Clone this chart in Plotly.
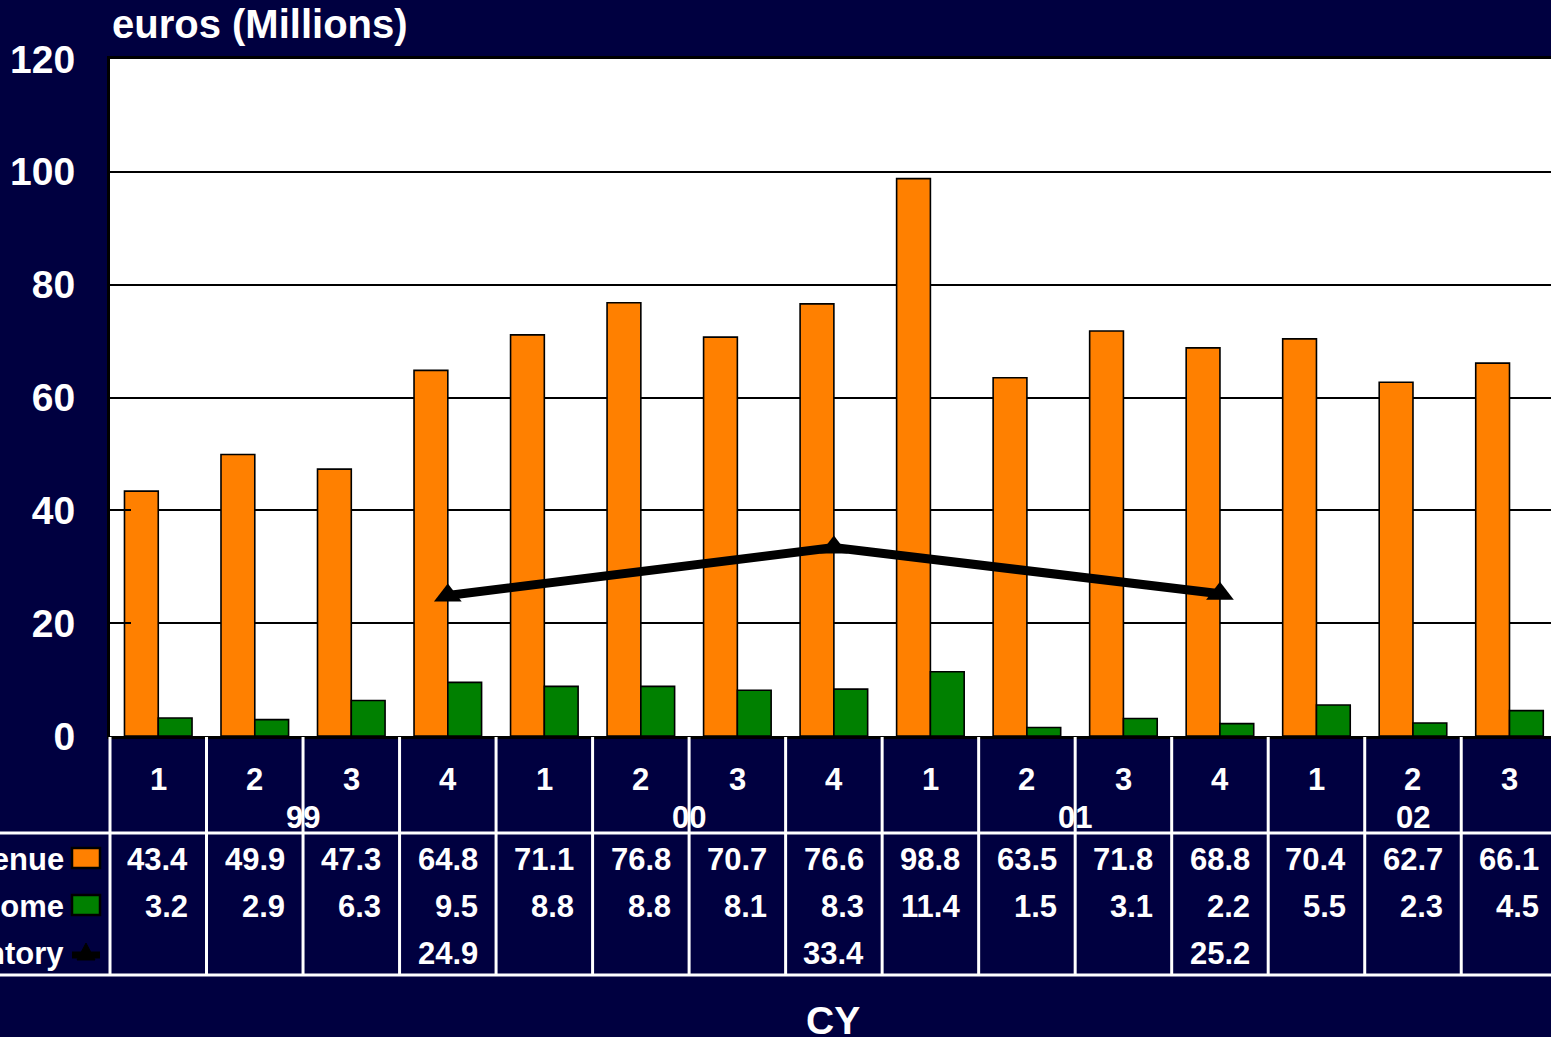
import plotly.graph_objects as go

# ---------------- data ----------------
quarters = ["1", "2", "3", "4", "1", "2", "3", "4", "1", "2", "3", "4", "1", "2", "3"]
year_of = ["99", "99", "99", "99", "00", "00", "00", "00", "01", "01", "01", "01", "02", "02", "02"]
revenue = [43.4, 49.9, 47.3, 64.8, 71.1, 76.8, 70.7, 76.6, 98.8, 63.5, 71.8, 68.8, 70.4, 62.7, 66.1]
net_income = [3.2, 2.9, 6.3, 9.5, 8.8, 8.8, 8.1, 8.3, 11.4, 1.5, 3.1, 2.2, 5.5, 2.3, 4.5]
inventory = [None, None, None, 24.9, None, None, None, 33.4, None, None, None, 25.2, None, None, None]
series_names = ["Revenue", "Net Income", "Inventory"]
y_ticks = [0, 20, 40, 60, 80, 100, 120]

# ---------------- style ----------------
NAVY = "#000040"
ORANGE = "#FF8000"
GREEN = "#008000"
W, H = 1551, 1037
L, T, B = 110, 59, 301
PLOT_W = W - L
PLOT_H = H - T - B
XR = [-0.5, 14.43]
FONT = "Arial, Liberation Sans, sans-serif"

x = list(range(len(quarters)))


def yp(p):
    """pixel row -> paper y"""
    return (H - B - p) / PLOT_H


def xp(p):
    """pixel column -> paper x"""
    return (p - L) / PLOT_W


def xc(v):
    """category coordinate -> paper x"""
    return (v - XR[0]) / (XR[1] - XR[0])


fig = go.Figure()
fig.add_trace(go.Bar(x=x, y=revenue, name=series_names[0],
                     marker=dict(color=ORANGE, line=dict(color="black", width=1.6))))
fig.add_trace(go.Bar(x=x, y=net_income, name=series_names[1],
                     marker=dict(color=GREEN, line=dict(color="black", width=1.6))))
fig.add_trace(go.Scatter(x=x, y=inventory, name=series_names[2], mode="lines+markers",
                         connectgaps=True, line=dict(color="black", width=9),
                         marker=dict(symbol="triangle-up", size=24, color="black"),
                         cliponaxis=False))

shapes = []
annotations = []

wfont = lambda s: dict(family=FONT, size=s, color="white", weight="bold")

# table horizontal lines
for py in (833, 975):
    shapes.append(dict(type="line", xref="paper", yref="paper", x0=xp(0), x1=1.01,
                       y0=yp(py), y1=yp(py), line=dict(color="white", width=3), layer="above"))
# table vertical lines
for i in range(len(quarters)):
    b = i - 0.5
    shapes.append(dict(type="line", xref="paper", yref="paper", x0=xc(b), x1=xc(b),
                       y0=yp(737), y1=yp(975), line=dict(color="white", width=3), layer="above"))

# quarter labels
for i, q in enumerate(quarters):
    annotations.append(dict(x=i, y=yp(779), xref="x", yref="paper", text=q, showarrow=False,
                            xanchor="center", yanchor="middle", font=wfont(31)))
# year labels
for yr in dict.fromkeys(year_of):
    idx = [i for i, v in enumerate(year_of) if v == yr]
    cx = sum(idx) / len(idx)
    annotations.append(dict(x=cx, y=yp(817), xref="x", yref="paper", text=yr, showarrow=False,
                            xanchor="center", yanchor="middle", font=wfont(31)))

# data rows
for row_vals, py in ((revenue, 859), (net_income, 906), (inventory, 953)):
    for i, v in enumerate(row_vals):
        if v is None:
            continue
        annotations.append(dict(x=i + 0.33, y=yp(py), xref="x", yref="paper", text=f"{v:.1f}",
                                showarrow=False, xanchor="right", yanchor="middle", font=wfont(31)))

# legend keys in table (labels run off the left edge, as in the original crop)
for name, py in zip(series_names, (859, 906, 953)):
    annotations.append(dict(x=xp(66), y=yp(py), xref="paper", yref="paper", text=name,
                            showarrow=False, xanchor="right", yanchor="middle", font=wfont(31)))
for col, py in ((ORANGE, 858), (GREEN, 905)):
    shapes.append(dict(type="rect", xref="paper", yref="paper", x0=xp(72), x1=xp(100),
                       y0=yp(py + 10), y1=yp(py - 10), fillcolor=col,
                       line=dict(color="black", width=2.5), layer="above"))
shapes.append(dict(type="line", xref="paper", yref="paper", x0=xp(72), x1=xp(100),
                   y0=yp(955), y1=yp(955), line=dict(color="black", width=7), layer="above"))
shapes.append(dict(type="path", xref="paper", yref="paper",
                   path=f"M {xp(77)},{yp(960)} L {xp(86)},{yp(943)} L {xp(95)},{yp(960)} Z",
                   fillcolor="black", line=dict(color="black", width=1), layer="above"))

# title + axis title
annotations.append(dict(x=0, y=yp(24), xref="paper", yref="paper", text="euros (Millions)",
                        showarrow=False, xanchor="left", yanchor="middle", font=wfont(40)))
annotations.append(dict(x=xp(833), y=yp(1021), xref="paper", yref="paper", text="CY",
                        showarrow=False, xanchor="center", yanchor="middle", font=wfont(39)))

fig.update_layout(
    width=W, height=H,
    margin=dict(l=L, r=0, t=T, b=B, pad=0),
    paper_bgcolor=NAVY, plot_bgcolor="white",
    barmode="group", bargap=0.3, bargroupgap=0,
    showlegend=False, hovermode=False,
    shapes=shapes, annotations=annotations,
    xaxis=dict(range=XR, showticklabels=False, showgrid=False, zeroline=False,
               showline=True, mirror=True, linecolor="black", linewidth=3, ticks=""),
    yaxis=dict(range=[0, 120], tickvals=y_ticks, showgrid=True, gridcolor="black", gridwidth=2,
               zeroline=False, showline=True, linecolor="black", linewidth=3,
               ticks="inside", ticklen=21, tickwidth=2, tickcolor="black",
               tickfont=wfont(39), ticklabelstandoff=24),
)

fig.write_html(
    "out.html",
    config={"displayModeBar": False},
    post_script="document.body.style.margin='0';document.body.style.overflow='hidden';"
                "document.body.style.background='#000040';",
)
